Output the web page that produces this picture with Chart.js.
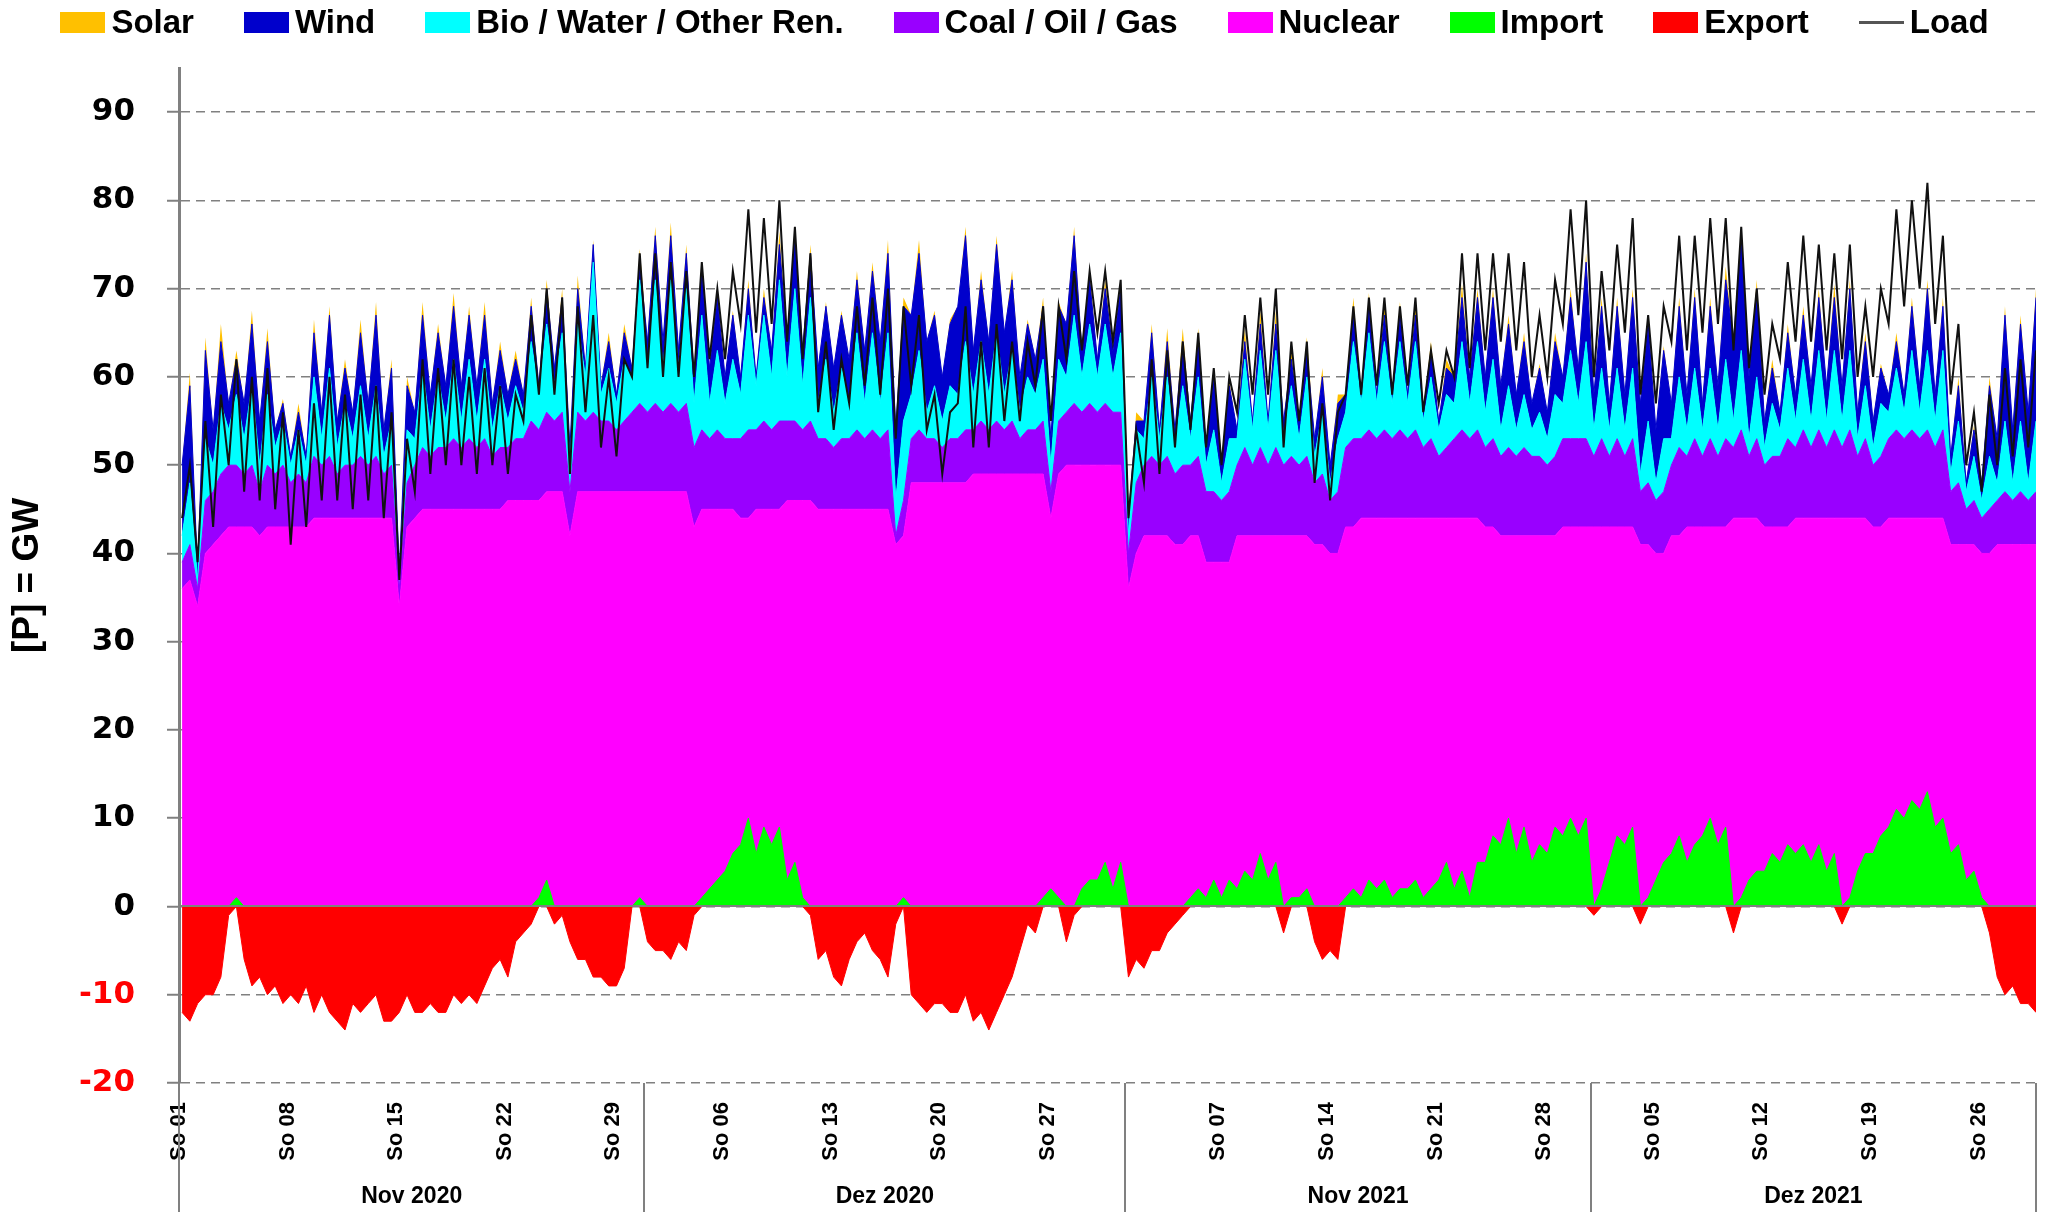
<!DOCTYPE html>
<html>
<head>
<meta charset="utf-8">
<title>Erzeugung / Last Nov-Dez 2020 und 2021</title>
<script src="https://cdn.jsdelivr.net/npm/chart.js@4.4.1/dist/chart.umd.min.js"></script>
<style>
  html, body { margin: 0; padding: 0; background: #fff; }
  #wrap { position: relative; width: 2049px; height: 1212px; }
  #chart { position: absolute; left: 0; top: 0; }
  #legend {
    position: absolute; left: 0; top: 0; width: 2049px; height: 44px;
    display: flex; justify-content: center; align-items: center; gap: 50px;
    font: bold 33px 'Liberation Sans', Arial, sans-serif; color: #000;
  }
  #legend .item { display: flex; align-items: center; white-space: nowrap; }
  #legend .box { width: 45px; height: 21px; margin-right: 6px; }
  #legend .line { width: 45px; height: 3px; margin-right: 6px; background: #555; }
</style>
</head>
<body>
<div id="wrap">
  <canvas id="chart" width="2049" height="1212"></canvas>
  <div id="legend"></div>
</div>
<script>
// two readings per day (night / afternoon), values in GW

const months     = ['Nov 2020', 'Dez 2020', 'Nov 2021', 'Dez 2021'];
const monthStart = [0, 30, 61, 91];          // day index where each month begins
const dataEnd    = 119.7;                    // last reading (29.12.2021)
const slot       = [0.2, 0.7];               // position of the two readings inside a day

const tickDays   = [0, 7, 14, 21, 28, 35, 42, 49, 56, 67, 74, 81, 88, 95, 102, 109, 116];
const tickLabels = ['So 01', 'So 08', 'So 15', 'So 22', 'So 29', 'So 06', 'So 13', 'So 20', 'So 27',
                    'So 07', 'So 14', 'So 21', 'So 28', 'So 05', 'So 12', 'So 19', 'So 26'];
const yTicks     = [-20, -10, 0, 10, 20, 30, 40, 50, 60, 70, 80, 90];

const nuclear = [
  // Nov 2020
  36,37, 34,40, 41,42, 43,43, 43,43, 42,43, 43,43,
  43,43, 43,44, 44,44, 44,44, 44,44, 44,44, 44,44,
  34,43, 44,45, 45,45, 45,45, 45,45, 45,45, 45,45,
  46,46, 46,46, 46,47, 47,47, 42,47, 47,47, 47,47,
  47,47, 47,47,
  // Dez 2020
  47,47, 47,47, 47,47, 43,45, 45,45, 45,45, 44,44,
  45,45, 45,45, 46,46, 46,46, 45,45, 45,45, 45,45,
  45,45, 45,45, 41,42, 48,48, 48,48, 48,48, 48,48,
  49,49, 49,49, 49,49, 49,49, 49,49, 44,49, 50,50,
  50,50, 50,50, 50,50,
  // Nov 2021
  36,40, 42,42, 42,42, 41,41, 42,42, 39,39, 39,39,
  42,42, 42,42, 42,42, 42,42, 42,42, 41,41, 40,40,
  43,43, 44,44, 44,44, 44,44, 44,44, 44,44, 44,44,
  44,44, 44,44, 43,43, 42,42, 42,42, 42,42, 42,42,
  43,43, 43,43,
  // Dez 2021
  43,43, 43,43, 43,43, 41,41, 40,40, 42,42, 43,43,
  43,43, 43,43, 44,44, 44,44, 43,43, 43,43, 44,44,
  44,44, 44,44, 44,44, 44,44, 43,43, 44,44, 44,44,
  44,44, 44,44, 41,41, 41,41, 40,40, 41,41, 41,41,
  41,41
];

const fossil = [
  // Nov 2020
  3,4, 2,6, 6,7, 7,7, 6,7, 5,7, 6,7,
  5,6, 5,7, 6,7, 5,6, 6,7, 6,7, 5,6,
  2,5, 6,7, 6,7, 7,8, 7,8, 7,8, 6,7,
  6,7, 7,9, 8,9, 8,9, 5,9, 8,9, 8,8,
  7,8, 9,10,
  // Dez 2020
  9,10, 9,10, 9,10, 9,9, 8,9, 8,8, 9,10,
  9,10, 9,10, 9,9, 8,9, 8,8, 7,8, 8,9,
  8,9, 8,9, 1,4, 5,6, 5,5, 4,5, 5,6,
  5,6, 5,6, 5,6, 4,5, 5,6, 3,6, 6,7,
  6,7, 6,7, 6,6,
  // Nov 2021
  4,8, 8,9, 8,9, 8,9, 8,9, 8,8, 7,8,
  8,10, 8,10, 8,10, 8,9, 8,9, 7,8, 6,7,
  9,10, 9,10, 9,10, 9,10, 9,10, 8,9, 7,8,
  9,10, 9,10, 9,10, 9,10, 9,10, 9,9, 8,9,
  10,10, 10,10,
  // Dez 2021
  8,10, 8,10, 8,10, 6,7, 6,7, 8,10, 8,10,
  8,10, 8,10, 8,10, 7,9, 7,8, 8,10, 8,10,
  8,10, 8,10, 8,10, 7,9, 7,8, 9,10, 9,10,
  9,10, 8,10, 6,7, 4,5, 4,5, 5,6, 5,6,
  5,6
];

const bio = [
  // Nov 2020
  3,7, 1,7, 3,8, 4,8, 4,9, 3,8, 3,5,
  2,5, 2,9, 3,10, 3,7, 3,8, 3,8, 2,5,
  1,6, 3,9, 3,8, 3,9, 3,9, 3,9, 3,7,
  3,6, 3,9, 4,10, 4,9, 3,10, 5,17, 3,6,
  3,7, 4,14,
  // Dez 2020
  5,14, 5,14, 5,13, 5,13, 4,9, 4,9, 5,13,
  5,12, 6,16, 5,15, 5,14, 4,9, 4,8, 4,11,
  4,11, 4,11, 4,9, 5,9, 3,6, 3,6, 5,10,
  4,9, 4,10, 4,8, 3,6, 4,7, 3,7, 4,10,
  4,9, 4,9, 4,9,
  // Nov 2021
  2,6, 3,9, 3,9, 3,9, 3,9, 3,7, 2,6,
  3,10, 4,11, 4,11, 3,8, 3,9, 3,7, 2,6,
  4,11, 4,11, 4,10, 4,10, 4,10, 3,7, 3,6,
  4,10, 4,10, 4,9, 3,7, 3,6, 3,5, 3,7,
  4,10, 4,11,
  // Dez 2021
  3,8, 3,8, 3,8, 2,7, 2,6, 3,8, 3,8,
  3,8, 3,9, 3,9, 2,7, 2,6, 3,8, 3,8,
  3,9, 3,9, 3,9, 2,6, 2,6, 3,7, 3,9,
  3,9, 3,9, 2,7, 2,5, 2,6, 2,8, 2,8,
  2,8
];

const wind = [
  // Nov 2020
  8,11, 1,10, 4,7, 3,4, 4,7, 5,6, 2,2,
  1,2, 1,5, 3,6, 3,4, 3,6, 4,8, 3,6,
  1,5, 3,6, 4,5, 4,6, 4,5, 4,5, 3,4,
  3,3, 2,4, 1,4, 2,4, 2,4, 1,2, 1,3,
  1,3, 1,2,
  // Dez 2020
  3,5, 3,5, 2,4, 3,5, 4,6, 3,5, 2,3,
  1,2, 3,4, 4,6, 4,5, 4,6, 5,6, 5,6,
  6,7, 7,9, 8,13, 9,11, 8,8, 5,7, 10,12,
  5,7, 6,10, 7,8, 4,6, 4,6, 3,6, 6,9,
  3,5, 2,4, 3,5,
  // Nov 2021
  2,1, 2,5, 1,4, 2,5, 2,4, 2,6, 2,6,
  1,2, 1,3, 1,3, 2,3, 2,3, 2,4, 2,4,
  2,3, 1,3, 1,3, 1,3, 1,3, 1,3, 1,3,
  3,5, 3,5, 4,7, 5,7, 4,6, 3,5, 3,6,
  3,6, 4,9,
  // Dez 2021
  4,7, 3,7, 4,8, 8,11, 6,10, 4,8, 4,8,
  3,7, 5,9, 9,13, 7,10, 3,4, 2,4, 3,5,
  4,6, 4,6, 4,7, 3,5, 3,4, 2,3, 2,5,
  3,7, 3,5, 2,4, 1,3, 2,8, 5,12, 6,11,
  8,14
];

const solar = [
  // Nov 2020
  0,1.5, 0,1.5, 0,2, 0,1, 0,1.5, 0,1.5, 0,0.5,
  0,1, 0,1.5, 0,1, 0,1, 0,1.5, 0,1.5, 0,1,
  0,1, 0,1.5, 0,1, 0,1.5, 0,1, 0,1.5, 0,1,
  0,1, 0,1, 0,1, 0,1, 0,1.5, 0,0.5, 0,1,
  0,1, 0,1.5,
  // Dez 2020
  0,1, 0,1.5, 0,1, 0,1, 0,1, 0,0.5, 0,1,
  0,1, 0,1.5, 0,1, 0,1, 0,0.5, 0,0.5, 0,1,
  0,1, 0,1.5, 0,1, 0,1.5, 0,0.5, 0,0.5, 0,1,
  0,1, 0,1, 0,1, 0,0.5, 0,1, 0,0.5, 0,1,
  0,1, 0,1, 0,0.5,
  // Nov 2021
  0,1, 0,1, 0,1.5, 0,1.5, 0,1.5, 0,1, 0,0.5,
  0,1.5, 0,1.5, 0,1.5, 0,1, 0,1.5, 0,1, 0,1,
  0,2, 0,1.5, 0,1.5, 0,1.5, 0,1.5, 0,1, 0,1,
  0,1.5, 0,1, 0,1, 0,1, 0,1, 0,0.5, 0,1,
  0,1, 0,1,
  // Dez 2021
  0,1, 0,1, 0,1, 0,0.5, 0,0.5, 0,1, 0,1,
  0,1, 0,1.5, 0,0.5, 0,1, 0,1, 0,1, 0,1,
  0,1, 0,1.5, 0,1, 0,1, 0,0.5, 0,1, 0,1,
  0,1, 0,1, 0,1, 0,0.5, 0,1, 0,1, 0,1,
  0,1
];

const importGW = [
  // Nov 2020
  0,0, 0,0, 0,0, 0,1, 0,0, 0,0, 0,0,
  0,0, 0,0, 0,0, 0,0, 0,0, 0,0, 0,0,
  0,0, 0,0, 0,0, 0,0, 0,0, 0,0, 0,0,
  0,0, 0,0, 1,3, 0,0, 0,0, 0,0, 0,0,
  0,0, 0,1,
  // Dez 2020
  0,0, 0,0, 0,0, 0,1, 2,3, 4,6, 7,10,
  6,9, 7,9, 3,5, 1,0, 0,0, 0,0, 0,0,
  0,0, 0,0, 0,1, 0,0, 0,0, 0,0, 0,0,
  0,0, 0,0, 0,0, 0,0, 0,1, 2,1, 0,0,
  2,3, 3,5, 2,5,
  // Nov 2021
  0,0, 0,0, 0,0, 0,0, 1,2, 1,3, 1,3,
  2,4, 3,6, 3,5, 0,1, 1,2, 0,0, 0,0,
  1,2, 1,3, 2,3, 1,2, 2,3, 1,2, 3,5,
  2,4, 1,5, 5,8, 7,10, 6,9, 5,7, 6,9,
  8,10, 8,10,
  // Dez 2021
  0,2, 5,8, 7,9, 0,1, 3,5, 6,8, 5,7,
  8,10, 7,9, 0,1, 3,4, 4,6, 5,7, 6,7,
  5,7, 4,6, 0,1, 4,6, 6,8, 9,11, 10,12,
  11,13, 9,10, 6,7, 3,4, 1,0, 0,0, 0,0,
  0,0
];

const exportGW = [
  // Nov 2020
  -12,-13, -11,-10, -10,-8, -1,0, -6,-9, -8,-10, -9,-11,
  -10,-11, -9,-12, -10,-12, -13,-14, -11,-12, -11,-10, -13,-13,
  -12,-10, -12,-12, -11,-12, -12,-10, -11,-10, -11,-9, -7,-6,
  -8,-4, -3,-2, 0,0, -2,-1, -4,-6, -6,-8, -8,-9,
  -9,-7, 0,0,
  // Dez 2020
  -4,-5, -5,-6, -4,-5, -1,0, 0,0, 0,0, 0,0,
  0,0, 0,0, 0,0, 0,-1, -6,-5, -8,-9, -6,-4,
  -3,-5, -6,-8, -2,0, -10,-11, -12,-11, -11,-12, -12,-10,
  -13,-12, -14,-12, -10,-8, -5,-2, -3,0, 0,0, -4,-1,
  0,0, 0,0, 0,0,
  // Nov 2021
  -8,-6, -7,-5, -5,-3, -2,-1, 0,0, 0,0, 0,0,
  0,0, 0,0, 0,0, -3,0, 0,0, -4,-6, -5,-6,
  0,0, 0,0, 0,0, 0,0, 0,0, 0,0, 0,0,
  0,0, 0,0, 0,0, 0,0, 0,0, 0,0, 0,0,
  0,0, 0,0,
  // Dez 2021
  -1,0, 0,0, 0,0, -2,0, 0,0, 0,0, 0,0,
  0,0, 0,0, -3,0, 0,0, 0,0, 0,0, 0,0,
  0,0, 0,0, -2,0, 0,0, 0,0, 0,0, 0,0,
  0,0, 0,0, 0,0, 0,0, 0,-3, -8,-10, -9,-11,
  -11,-12
];

const load = [
  // Nov 2020
  44,50, 39,55, 43,58, 50,62, 47,60, 46,61, 45,56,
  41,54, 43,57, 46,60, 46,58, 45,58, 46,59, 44,56,
  37,53, 47,62, 49,61, 50,62, 50,60, 49,61, 50,59,
  49,58, 55,67, 58,70, 58,69, 49,68, 56,67, 52,60,
  51,62, 60,74,
  // Dez 2020
  61,74, 60,73, 60,72, 60,73, 62,70, 62,72, 66,79,
  65,78, 66,80, 64,77, 62,74, 56,64, 54,62, 57,68,
  59,69, 58,70, 53,68, 59,67, 54,58, 49,56, 57,68,
  52,64, 52,66, 55,64, 55,64, 59,68, 55,68, 62,72,
  63,72, 65,72, 64,71,
  // Nov 2021
  44,54, 48,62, 49,63, 52,64, 54,65, 52,61, 50,60,
  56,67, 58,69, 58,70, 52,64, 55,64, 48,57, 46,56,
  58,68, 58,69, 59,69, 58,68, 59,69, 56,63, 57,63,
  60,74, 61,74, 63,74, 64,74, 63,73, 60,67, 60,71,
  66,79, 67,80,
  // Dez 2021
  60,72, 63,75, 65,78, 58,67, 57,68, 64,76, 63,76,
  65,78, 66,78, 63,77, 61,70, 58,66, 62,73, 64,76,
  64,75, 63,74, 62,75, 60,68, 60,70, 66,79, 68,80,
  70,82, 66,76, 58,66, 50,56, 47,58, 50,61, 51,62,
  52,63
];

/* ── helpers ── */
const xs  = nuclear.map((_, i) => Math.floor(i / 2) + slot[i % 2]);
const pts = arr => arr.map((y, i) => ({ x: xs[i], y }));

function layer(label, data, color, fill, extra) {
  return Object.assign({
    label, data: pts(data), fill,
    backgroundColor: color, borderColor: color, borderWidth: 1,
    pointRadius: 0, order: 2
  }, extra || {});
}

// bottom-up order, stacked by chart.js
const datasets = [
  layer('Nuclear', nuclear, '#FF00FF', 'origin'),
  layer('Coal / Oil / Gas', fossil, '#9900FF', '-1'),
  layer('Bio / Water / Other Ren.', bio, '#00FFFF', '-1'),
  layer('Wind', wind, '#0000CC', '-1'),
  layer('Solar', solar, '#FFC000', '-1', { borderWidth: 0 }),
  layer('Import', importGW, '#00FF00', 'origin', { stack: 'imp', order: 1 }),
  layer('Export', exportGW, '#FF0000', 'origin', { stack: 'exp', order: 1 }),
  { label: 'Load', data: pts(load), stack: 'load', order: 0, fill: false,
    borderColor: '#111', backgroundColor: '#111', borderWidth: 2, pointRadius: 0 }
];

/* ── legend (html) ── */
const legendOrder = ['Solar', 'Wind', 'Bio / Water / Other Ren.', 'Coal / Oil / Gas',
                     'Nuclear', 'Import', 'Export', 'Load'];
const legendEl = document.getElementById('legend');
legendOrder.forEach(name => {
  const ds = datasets.find(d => d.label === name);
  const item = document.createElement('div');
  item.className = 'item';
  const mark = document.createElement('span');
  if (name === 'Load') {
    mark.className = 'line';
  } else {
    mark.className = 'box';
    mark.style.background = ds.backgroundColor;
  }
  item.appendChild(mark);
  item.appendChild(document.createTextNode(name));
  legendEl.appendChild(item);
});

/* ── zero line, month separators and month names ── */
const extras = {
  id: 'extras',
  afterDatasetsDraw(chart) {
    const { ctx, chartArea: a, scales: { y } } = chart;
    const y0 = Math.round(y.getPixelForValue(0));
    ctx.save();
    ctx.strokeStyle = '#808080';
    ctx.lineWidth = 2;
    ctx.beginPath();
    ctx.moveTo(a.left, y0);
    ctx.lineTo(a.right, y0);
    ctx.stroke();
    ctx.restore();
  },
  afterDraw(chart) {
    const { ctx, chartArea: a, scales: { x }, height } = chart;
    const bounds = monthStart.concat([dataEnd]);
    ctx.save();
    ctx.strokeStyle = '#808080';
    ctx.lineWidth = 2;
    bounds.forEach(d => {
      const px = Math.round(x.getPixelForValue(d));
      ctx.beginPath();
      ctx.moveTo(px, a.bottom);
      ctx.lineTo(px, height);
      ctx.stroke();
    });
    ctx.fillStyle = '#000';
    ctx.font = "bold 23px 'Liberation Sans', Arial, sans-serif";
    ctx.textAlign = 'center';
    ctx.textBaseline = 'middle';
    months.forEach((m, i) => {
      const c = (x.getPixelForValue(bounds[i]) + x.getPixelForValue(bounds[i + 1])) / 2;
      ctx.fillText(m, c, a.bottom + 114);
    });
    ctx.restore();
  }
};

new Chart(document.getElementById('chart'), {
  type: 'line',
  data: { datasets },
  options: {
    responsive: false,
    animation: false,
    devicePixelRatio: 1,
    events: [],
    layout: { padding: { top: 68, right: 13, bottom: 0, left: 0 } },
    elements: { line: { tension: 0 }, point: { radius: 0 } },
    plugins: { legend: { display: false }, tooltip: { enabled: false } },
    scales: {
      x: {
        type: 'linear', min: 0, max: dataEnd,
        grid: { display: false, drawTicks: false },
        border: { display: false },
        afterBuildTicks: s => { s.ticks = tickDays.map(v => ({ value: v })); },
        afterFit: s => { s.height = 129; },
        ticks: {
          autoSkip: false, minRotation: 90, maxRotation: 90, padding: 19,
          color: '#000',
          font: { family: 'Liberation Sans', weight: 'bold', size: 22 },
          callback: (v, i) => tickLabels[i]
        }
      },
      y: {
        stacked: true, min: -20, max: 95,
        afterBuildTicks: s => { s.ticks = yTicks.map(v => ({ value: v })); },
        afterFit: s => { s.width = 179; },
        grid: { color: '#808080', lineWidth: 1.5, tickColor: '#808080', tickLength: 12, tickWidth: 2 },
        border: { display: true, color: '#808080', width: 3, dash: [9, 6] },
        title: {
          display: true, text: '[P] = GW', color: '#000',
          font: { family: 'Liberation Sans', weight: 'bold', size: 37 },
          padding: { top: 6, bottom: 0 }
        },
        ticks: {
          padding: 32,
          color: c => (c.tick && c.tick.value < 0 ? '#FF0000' : '#000'),
          font: { family: 'DejaVu Sans', weight: 'bold', size: 31 }
        }
      }
    }
  },
  plugins: [extras]
});
</script>
</body>
</html>
